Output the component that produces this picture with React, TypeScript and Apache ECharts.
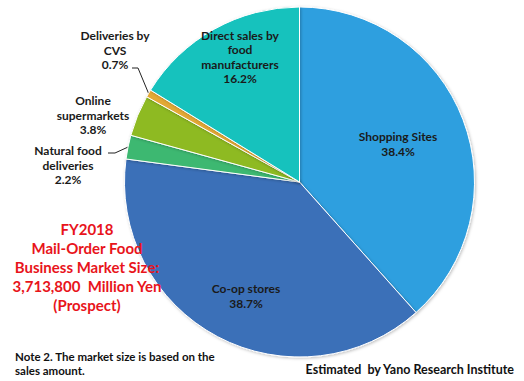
import React, { useEffect, useRef } from "react";
import * as echarts from "echarts";

const categories = [
  "Shopping Sites",
  "Co-op stores",
  "Natural food\ndeliveries",
  "Online\nsupermarkets",
  "Deliveries by\nCVS",
  "Direct sales by\nfood\nmanufacturers",
];
const shares = [38.4, 38.7, 2.2, 3.8, 0.7, 16.2];
const colors = ["#2D9FDF", "#3A6FB8", "#3DB871", "#8EBA22", "#E3A935", "#13C2BD"];
const titleLines = [
  "FY2018",
  "Mail-Order Food",
  "Business Market Size:",
  "3,713,800  Million Yen",
  "(Prospect)",
];
const noteText = "Note 2. The market size is based on the\nsales amount.";
const sourceText = "Estimated  by Yano Research Institute";

// label anchor positions (layout only)
const labelPos: [number, number][] = [
  [398, 144],
  [246, 296],
  [68, 165],
  [93, 115],
  [115, 50],
  [240, 57],
];
// leader line elbows (layout only)
const leaderBends: Record<number, [number, number][]> = {
  2: [[115, 153], [108, 153]],
  4: [[138, 68], [132, 68]],
};

const CX = 299.5;
const CY = 182;
const R = 175;

export default function App() {
  const ref = useRef<HTMLDivElement>(null);
  useEffect(() => {
    if (!ref.current) return;
    const chart = echarts.init(ref.current, undefined, { renderer: "svg" });
    const font = "Lato, 'Noto Sans', sans-serif";
    const total = shares.reduce((a, b) => a + b, 0);
    const midAngle = (i: number) => {
      let before = 0;
      for (let k = 0; k < i; k++) before += shares[k];
      return ((before + shares[i] / 2) / total) * Math.PI * 2;
    };
    chart.setOption({
      animation: false,
      backgroundColor: "#ffffff",
      series: [
        {
          type: "pie",
          center: [CX, CY],
          radius: [0, R],
          startAngle: 90,
          clockwise: true,
          avoidLabelOverlap: false,
          z: 2,
          itemStyle: {
            borderColor: "#ffffff",
            borderWidth: 1,
            shadowBlur: 3,
            shadowColor: "rgba(0,0,0,0.25)",
            shadowOffsetX: 1,
            shadowOffsetY: 1,
          },
          label: {
            show: true,
            formatter: (p: any) => `${p.name}\n${p.value.toFixed(1)}%`,
            fontFamily: font,
            fontWeight: "bold",
            fontSize: 12,
            lineHeight: 14.5,
            color: "#1a1a1a",
            align: "center",
          },
          labelLine: { show: true, lineStyle: { color: "#222", width: 1 }, length: 8, length2: 8 },
          labelLayout: (params: any) => {
            const i = params.dataIndex;
            const [x, y] = labelPos[i];
            const out: any = { x, y, align: "center", verticalAlign: "middle" };
            if (leaderBends[i]) {
              const a = midAngle(i);
              const edge = [CX + R * Math.sin(a), CY - R * Math.cos(a)];
              out.labelLinePoints = [edge, ...leaderBends[i]];
            }
            return out;
          },
          data: categories.map((name, i) => ({
            name,
            value: shares[i],
            itemStyle: { color: colors[i] },
            label: { position: i <= 1 || i === 5 ? "inside" : "outside" },
            labelLine: { show: i === 2 || i === 4 },
          })),
        },
      ],
      graphic: [
        {
          type: "text",
          x: 87,
          y: 219,
          z: 100,
          style: {
            text: titleLines.join("\n"),
            fill: "#E8141B",
            font: `bold 15px ${font}`,
            lineHeight: 19,
            align: "center",
            verticalAlign: "top",
          },
        },
        {
          type: "text",
          x: 15,
          y: 349,
          z: 100,
          style: {
            text: noteText,
            fill: "#111",
            font: `bold 11.5px ${font}`,
            lineHeight: 14,
            verticalAlign: "top",
          },
        },
        {
          type: "text",
          x: 514,
          y: 363,
          z: 100,
          style: {
            text: sourceText,
            fill: "#111",
            font: `bold 12.5px ${font}`,
            align: "right",
            verticalAlign: "top",
          },
        },
      ],
    });
    return () => chart.dispose();
  }, []);
  return (
    <div
      ref={ref}
      style={{ position: "fixed", left: 0, top: 0, width: 524, height: 381 }}
    />
  );
}
